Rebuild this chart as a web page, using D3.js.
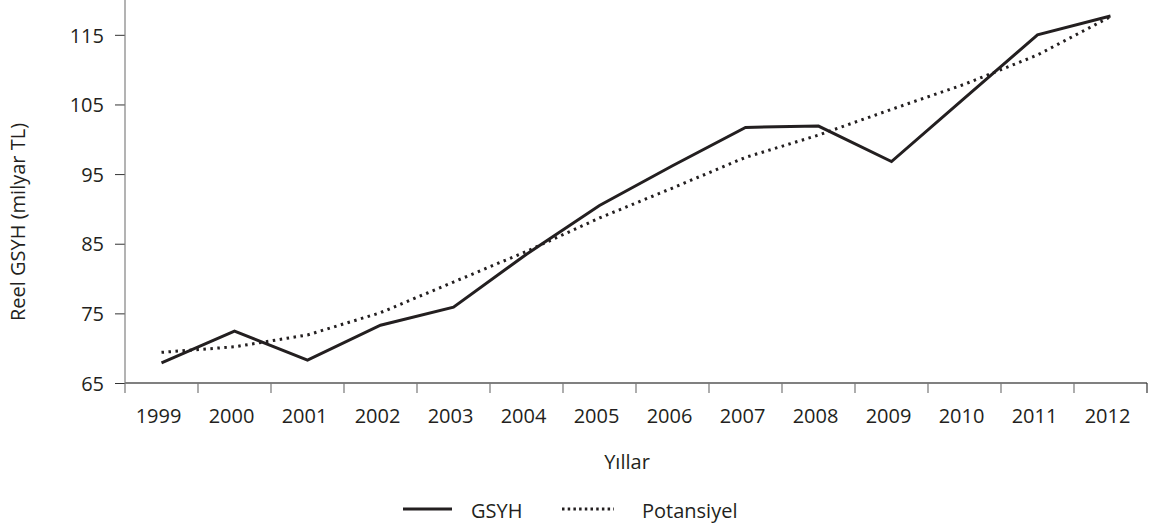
<!DOCTYPE html>
<html>
<head>
<meta charset="utf-8">
<script src="https://cdn.jsdelivr.net/npm/d3@7"></script>
<style>
  body { margin: 0; background: #fff; }
  text { font-family: "Open Sans", "Noto Sans", sans-serif; fill: #231f20; }
</style>
</head>
<body>
<svg id="svg"></svg>
<script>
  const years = ["1999","2000","2001","2002","2003","2004","2005","2006","2007","2008","2009","2010","2011","2012"];
  const gsyh = [67.9, 72.45, 68.3, 73.3, 75.9, 83.5, 90.5, 96.2, 101.7, 101.9, 96.8, 105.9, 115.0, 117.7];
  const potansiyel = [69.4, 70.2, 71.9, 75.1, 79.5, 83.9, 88.7, 93.0, 97.4, 100.6, 104.3, 107.9, 112.1, 117.6];
  const yTicks = [65, 75, 85, 95, 105, 115];

  const width = 1155;
  const height = 526;
  const marginLeft = 125;
  const plotRight = 1147;
  const plotTop = 0;
  const plotBottom = 383;
  const fontSize = "20px";

  const svg = d3.select("#svg")
      .attr("width", width)
      .attr("height", height);

  const xScale = d3.scaleBand()
      .domain(years)
      .range([marginLeft, plotRight])
      .padding(0);

  const yScale = d3.scaleLinear()
      .domain([65, 120])
      .range([plotBottom, plotTop]);

  // y axis
  const yAxis = svg.append("g")
      .attr("transform", `translate(${marginLeft},0)`)
      .call(d3.axisLeft(yScale).tickValues(yTicks).tickSize(10).tickPadding(11));
  yAxis.select(".domain").remove();
  yAxis.append("line")
      .attr("x1", 0).attr("x2", 0)
      .attr("y1", plotTop).attr("y2", plotBottom)
      .attr("stroke", "#808080").attr("stroke-width", 1.2);
  yAxis.selectAll(".tick line").attr("stroke", "#333");
  yAxis.selectAll(".tick text")
      .style("font-size", fontSize)
      .attr("dy", "0.36em");

  // x axis: ticks between the years
  const xAxis = svg.append("g")
      .attr("transform", `translate(0,${plotBottom})`);
  xAxis.append("line")
      .attr("x1", marginLeft).attr("x2", plotRight)
      .attr("y1", 0).attr("y2", 0)
      .attr("stroke", "#808080").attr("stroke-width", 2);
  const bounds = years.map(d => xScale(d) + xScale.bandwidth()).concat([marginLeft]);
  xAxis.selectAll(".xtick")
      .data(bounds)
      .enter().append("line")
      .attr("x1", d => d).attr("x2", d => d)
      .attr("y1", 0).attr("y2", 10)
      .attr("stroke", d => d === plotRight ? "#333" : "#777")
      .attr("stroke-width", 1.2);
  xAxis.selectAll(".xlabel")
      .data(years)
      .enter().append("text")
      .attr("x", d => xScale(d) + xScale.bandwidth() / 2 - 3)
      .attr("y", 40)
      .attr("text-anchor", "middle")
      .style("font-size", fontSize)
      .text(d => d);

  // titles
  svg.append("text")
      .attr("transform", "translate(25,222) rotate(-90)")
      .attr("text-anchor", "middle")
      .style("font-size", fontSize)
      .text("Reel GSYH (milyar TL)");

  svg.append("text")
      .attr("x", 627)
      .attr("y", 469)
      .attr("text-anchor", "middle")
      .style("font-size", fontSize)
      .text("Yıllar");

  // lines
  const line = d3.line()
      .x((d, i) => xScale(years[i]) + xScale.bandwidth() / 2)
      .y(d => yScale(d));

  svg.append("path")
      .datum(potansiyel)
      .attr("fill", "none")
      .attr("stroke", "#231f20")
      .attr("stroke-width", 3)
      .attr("stroke-dasharray", "2.5,4.5")
      .attr("d", line);

  svg.append("path")
      .datum(gsyh)
      .attr("fill", "none")
      .attr("stroke", "#231f20")
      .attr("stroke-width", 3)
      .attr("d", line);

  // legend
  const legend = svg.append("g");
  legend.append("line")
      .attr("x1", 403).attr("x2", 452)
      .attr("y1", 509).attr("y2", 509)
      .attr("stroke", "#231f20").attr("stroke-width", 3);
  legend.append("text")
      .attr("x", 471).attr("y", 518)
      .style("font-size", fontSize)
      .text("GSYH");
  legend.append("line")
      .attr("x1", 562).attr("x2", 614)
      .attr("y1", 509).attr("y2", 509)
      .attr("stroke", "#231f20").attr("stroke-width", 3)
      .attr("stroke-dasharray", "2.5,3.2");
  legend.append("text")
      .attr("x", 642).attr("y", 518)
      .style("font-size", fontSize)
      .text("Potansiyel");
</script>
</body>
</html>
